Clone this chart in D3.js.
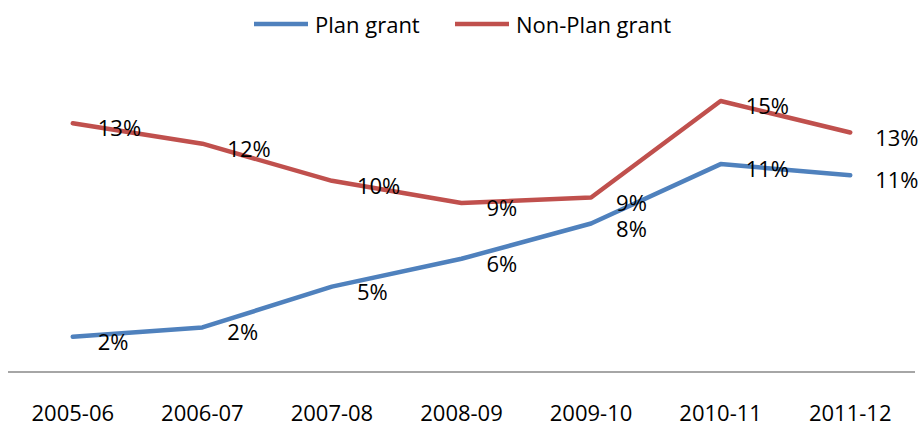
<!DOCTYPE html>
<html>
<head>
<meta charset="utf-8">
<script src="https://cdn.jsdelivr.net/npm/d3@7"></script>
<style>
  html, body { margin: 0; padding: 0; background: #fff; }
  svg { display: block; font-family: "Open Sans", "Liberation Sans", sans-serif; }
</style>
</head>
<body>
<svg id="chart" width="922" height="426"></svg>
<script>
const categories = ["2005-06", "2006-07", "2007-08", "2008-09", "2009-10", "2010-11", "2011-12"];
const planGrant = [1.9, 2.4, 4.6, 6.1, 8.0, 11.2, 10.6];
const nonPlanGrant = [13.4, 12.3, 10.3, 9.1, 9.4, 14.6, 12.9];
const seriesNames = ["Plan grant", "Non-Plan grant"];
const seriesColors = ["#4F81BD", "#C0504D"];

const svg = d3.select("#chart");
const W = 922, H = 426;

const x = d3.scaleBand().domain(categories).range([8, 915]).paddingInner(0).paddingOuter(0);
const y = d3.scaleLinear().domain([0, 16]).range([372, 75]);

// category axis
const xAxis = d3.axisBottom(x).tickSize(0).tickPadding(0);
const gx = svg.append("g").attr("transform", "translate(0,372)").call(xAxis);
gx.select(".domain").attr("stroke", "#A6A6A6").attr("stroke-width", 2).attr("d", "M8,0H915");
gx.selectAll(".tick text")
  .attr("y", 49)
  .attr("dy", null)
  .attr("font-size", 22)
  .attr("font-family", "'Open Sans', sans-serif")
  .attr("fill", "#000");

const series = [
  { name: seriesNames[0], values: planGrant, color: seriesColors[0] },
  { name: seriesNames[1], values: nonPlanGrant, color: seriesColors[1] }
];

const line = d3.line()
  .x((d, i) => x(categories[i]) + x.bandwidth() / 2)
  .y(d => y(d));

series.forEach(s => {
  svg.append("path")
    .datum(s.values)
    .attr("fill", "none")
    .attr("stroke", s.color)
    .attr("stroke-width", 4.5)
    .attr("stroke-linejoin", "round")
    .attr("stroke-linecap", "round")
    .attr("d", line);
});

series.forEach(s => {
  svg.append("g").selectAll("text")
    .data(s.values)
    .join("text")
    .attr("x", (d, i) => x(categories[i]) + x.bandwidth() / 2 + 25)
    .attr("y", d => y(d) + 4)
    .attr("dominant-baseline", "central")
    .attr("font-size", 22)
    .attr("fill", "#000")
    .text(d => Math.round(d) + "%");
});

// legend
const legend = [
  { name: seriesNames[0], color: seriesColors[0], x1: 254, x2: 308, tx: 315 },
  { name: seriesNames[1], color: seriesColors[1], x1: 455, x2: 509, tx: 516 }
];
legend.forEach(l => {
  svg.append("line")
    .attr("x1", l.x1).attr("x2", l.x2)
    .attr("y1", 24).attr("y2", 24)
    .attr("stroke", l.color).attr("stroke-width", 4.5);
  svg.append("text")
    .attr("x", l.tx).attr("y", 33)
    .attr("font-size", 22)
    .attr("fill", "#000")
    .text(l.name);
});
</script>
</body>
</html>
